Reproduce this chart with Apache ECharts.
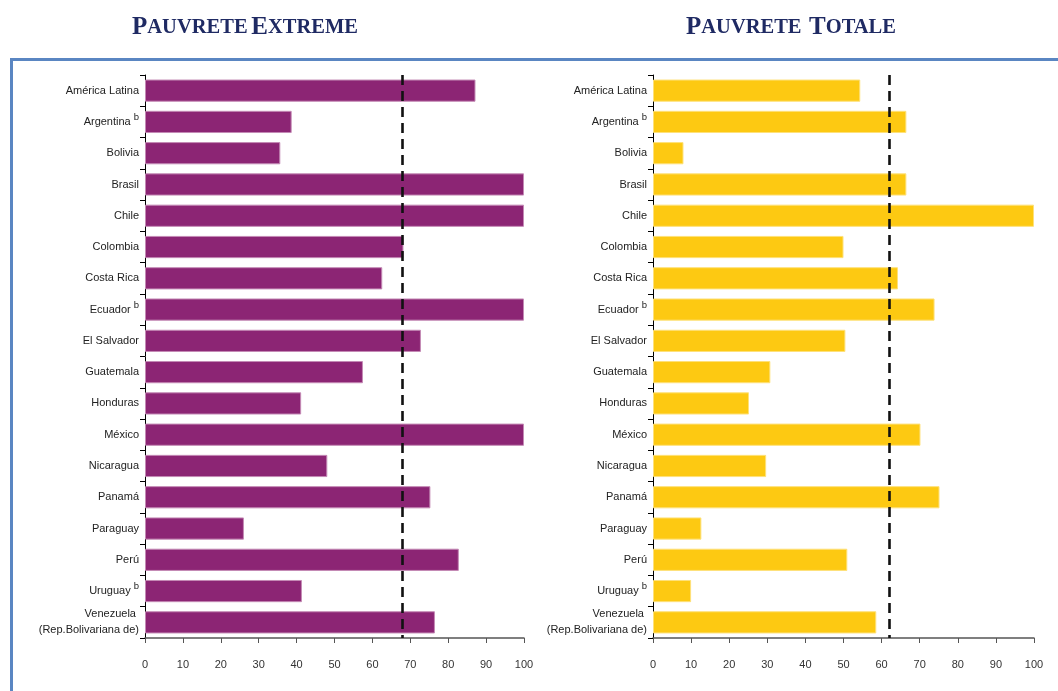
<!DOCTYPE html>
<html>
<head>
<meta charset="utf-8">
<script src="https://cdn.jsdelivr.net/npm/echarts@6/dist/echarts.min.js"></script>
<style>
html,body{margin:0;padding:0;background:#fff;}
#c{width:1058px;height:691px;}
</style>
</head>
<body>
<div id="c"></div>
<script>
const countries = ['América Latina','Argentina','Bolivia','Brasil','Chile','Colombia','Costa Rica','Ecuador','El Salvador','Guatemala','Honduras','México','Nicaragua','Panamá','Paraguay','Perú','Uruguay','Venezuela \n(Rep.Bolivariana de)'];
const notes = ['','b','','','','','','b','','','','','','','','','b',''];
const extremeValues = [87.2,38.7,35.7,100,100,68.2,62.6,100,72.8,57.5,41.2,100,48.1,75.3,26.1,82.8,41.4,76.5];
const totalValues = [54.4,66.5,8.0,66.5,100,50.0,64.3,73.9,50.5,30.8,25.2,70.2,29.7,75.2,12.7,51.0,10.0,58.6];
const extremeAvg = 68.0;
const totalAvg = 62.0;
const xTicks = [0,10,20,30,40,50,60,70,80,90,100];
const titles = [['P','AUVRETE',' ','E','XTREME'],['P','AUVRETE','  ','T','OTALE']];

const chart = echarts.init(document.getElementById('c'));
const labelFont = '"Liberation Sans", Arial, sans-serif';

function yLabel(v, i){
  const lines = v.split('\n').map(l => '{n|' + l + '}');
  let s = lines.join('\n');
  if (notes[i]) s += '{s|' + notes[i] + '}';
  return s;
}
function yAxisCfg(gi){
  return {
    type:'category', gridIndex:gi, data:countries, inverse:true,
    axisLine:{show:true, lineStyle:{color:'#000', width:1}},
    axisTick:{show:true, length:5, lineStyle:{color:'#000'}},
    axisLabel:{margin:6, formatter:yLabel, color:'#222',
      rich:{
        n:{fontFamily:labelFont, fontSize:11, color:'#222', lineHeight:16},
        s:{fontFamily:labelFont, fontSize:9.5, color:'#222', padding:[0,0,9,3]}
      }}
  };
}
function xAxisCfg(gi){
  return {
    type:'value', gridIndex:gi, min:xTicks[0], max:xTicks[xTicks.length-1], interval:xTicks[1]-xTicks[0],
    axisLine:{show:true, lineStyle:{color:'#555', width:1.5}},
    axisTick:{show:true, length:5, lineStyle:{color:'#555'}},
    splitLine:{show:false},
    axisLabel:{margin:21, color:'#333', fontFamily:labelFont, fontSize:11}
  };
}
function mark(v){
  return {symbol:'none', silent:true, label:{show:false},
    lineStyle:{color:'#111', width:2.6, type:[10,6]},
    data:[{xAxis:v}]};
}
function titleText(parts, x){
  const t = parts.map((p,i)=> (i===0||i===3) ? '{b|'+p+'}' : (p.trim()===''? '{sp|'+p+'}' : '{s|'+p+'}')).join('');
  return {type:'text', x:x, y:28, style:{text:t, align:'center', verticalAlign:'middle',
    rich:{
      b:{fontFamily:'"Liberation Serif", serif', fontWeight:'bold', fontSize:25, fill:'#1F2A63'},
      s:{fontFamily:'"Liberation Serif", serif', fontWeight:'bold', fontSize:20.5, fill:'#1F2A63'},
      sp:{fontFamily:'"Liberation Serif", serif', fontWeight:'bold', fontSize:15, fill:'#1F2A63'}
    }}};
}

chart.setOption({
  animation:false,
  backgroundColor:'#fff',
  graphic:[
    {type:'rect', shape:{x:11.5, y:59.5, width:1100, height:700}, style:{fill:'none', stroke:'#5A86C2', lineWidth:3}, z:-1},
    titleText(titles[0], 245),
    titleText(titles[1], 791)
  ],
  grid:[
    {left:145, right:534, top:75, bottom:53},
    {left:653, right:24, top:75, bottom:53}
  ],
  xAxis:[xAxisCfg(0), xAxisCfg(1)],
  yAxis:[yAxisCfg(0), yAxisCfg(1)],
  series:[
    {type:'bar', xAxisIndex:0, yAxisIndex:0, data:extremeValues, barWidth:'71%',
      itemStyle:{color:'#8C2574', borderColor:'#C48AB5', borderWidth:1},
      markLine:mark(extremeAvg)},
    {type:'bar', xAxisIndex:1, yAxisIndex:1, data:totalValues, barWidth:'71%',
      itemStyle:{color:'#FDC912', borderColor:'#FEE17A', borderWidth:1},
      markLine:mark(totalAvg)}
  ]
});
</script>
</body>
</html>
